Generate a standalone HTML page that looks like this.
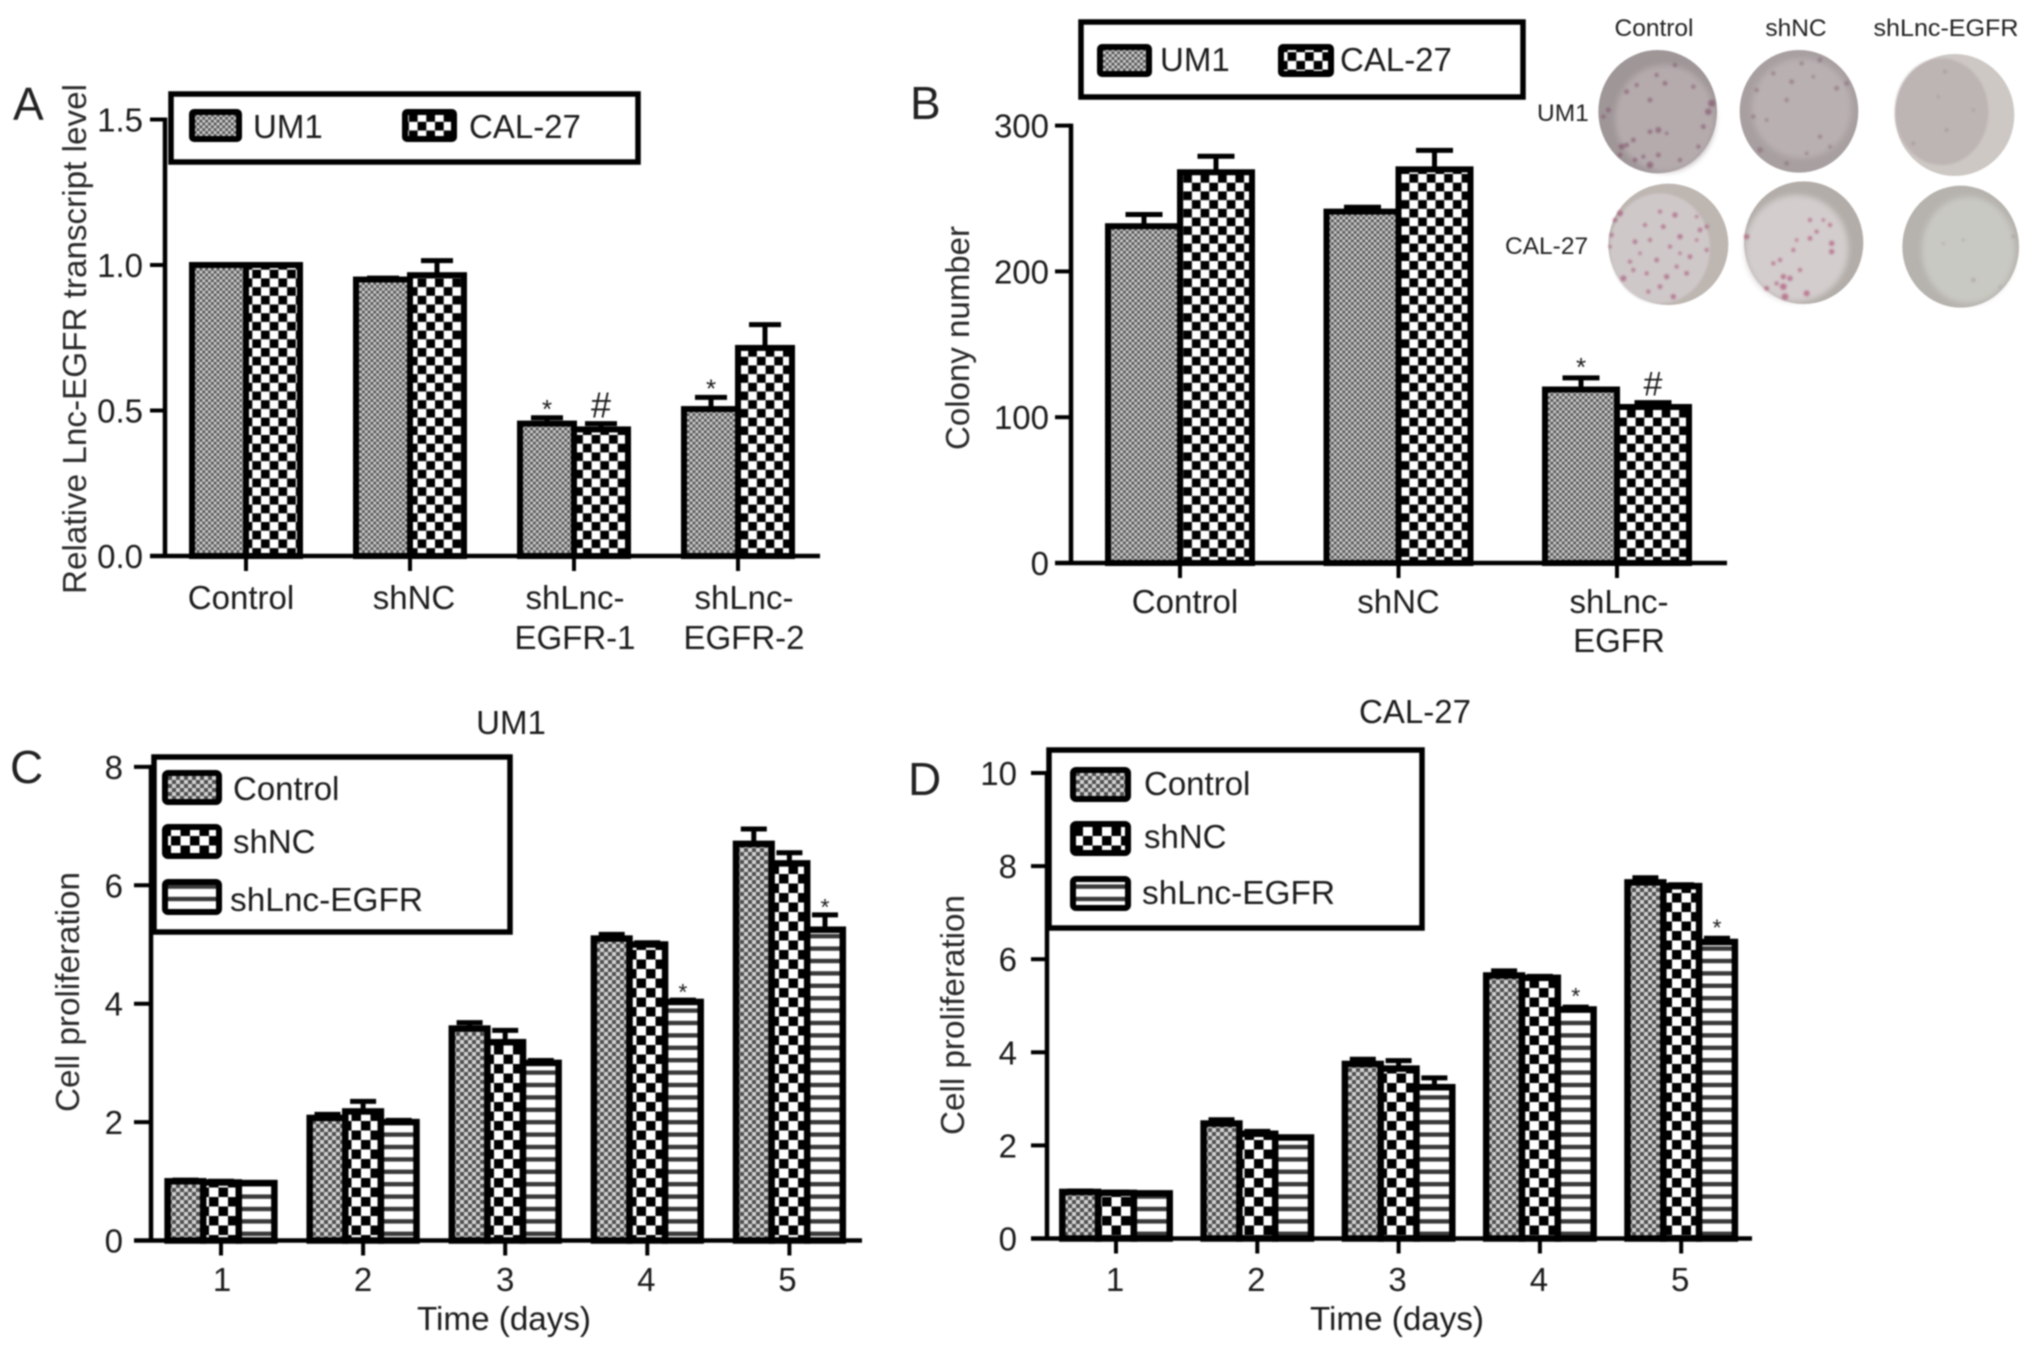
<!DOCTYPE html>
<html lang="en">
<head>
<meta charset="utf-8">
<title>Lnc-EGFR knockdown figure</title>
<style>
html,body{margin:0;padding:0;background:#fff;}
#figure{display:block;width:2032px;height:1349px;filter:blur(0.8px);}
text{font-family:"Liberation Sans",sans-serif;font-size:33px;fill:#1c1c1c;}
.letter{font-size:46px;fill:#222;}
.small{font-size:24.5px;fill:#222;}
.title{fill:#2a2a2a;}
.box{fill:#fff;stroke:#000;stroke-width:5.5;}
.swatch{stroke:#000;stroke-width:6;}
</style>
</head>
<body>
<svg id="figure" xmlns="http://www.w3.org/2000/svg" width="2032" height="1349" viewBox="0 0 2032 1349">
<defs>
  <pattern id="um-fine" patternUnits="userSpaceOnUse" width="5.7" height="5.7">
    <rect width="5.7" height="5.7" fill="#cccccc"/>
    <rect width="2.85" height="2.85" fill="#585858"/>
    <rect x="2.85" y="2.85" width="2.85" height="2.85" fill="#585858"/>
  </pattern>
  <pattern id="um-coarse" patternUnits="userSpaceOnUse" width="8" height="8">
    <rect width="8" height="8" fill="#d2d2d2"/>
    <rect width="4" height="4" fill="#4f4f4f"/>
    <rect x="4" y="4" width="4" height="4" fill="#4f4f4f"/>
  </pattern>
  <pattern id="cal-fine" patternUnits="userSpaceOnUse" width="17.4" height="17.4">
    <rect width="17.4" height="17.4" fill="#fff"/>
    <rect width="8.7" height="8.7" fill="#000"/>
    <rect x="8.7" y="8.7" width="8.7" height="8.7" fill="#000"/>
  </pattern>
  <pattern id="cal-coarse" patternUnits="userSpaceOnUse" width="19" height="19">
    <rect width="19" height="19" fill="#fff"/>
    <rect width="9.5" height="9.5" fill="#000"/>
    <rect x="9.5" y="9.5" width="9.5" height="9.5" fill="#000"/>
  </pattern>
  <pattern id="stripes" patternUnits="userSpaceOnUse" width="12.4" height="12.4">
    <rect width="12.4" height="12.4" fill="#fff"/>
    <rect y="4" width="12.4" height="4.4" fill="#3a3a3a"/>
  </pattern>
  <filter id="soft" x="-10%" y="-10%" width="120%" height="120%"><feGaussianBlur stdDeviation="3.5"/></filter>
  <filter id="soft2" x="-10%" y="-10%" width="120%" height="120%"><feGaussianBlur stdDeviation="9"/></filter>
</defs>

<rect width="2032" height="1349" fill="#fff"/>

<!-- PANEL A -->
<g>
  <text class="letter" x="13" y="120">A</text>
  <g id="plot-a"></g>
  <text class="title" transform="translate(86 594) rotate(-90)" textLength="510" lengthAdjust="spacingAndGlyphs">Relative Lnc-EGFR transcript level</text>
  <g>
    <rect class="box" x="171" y="94" width="467" height="68"/>
    <rect class="swatch" x="192" y="112" width="47" height="27" rx="2" fill="url(#um-fine)"/>
    <text x="253" y="138">UM1</text>
    <rect class="swatch" x="405" y="112" width="49" height="27" rx="2" fill="url(#cal-fine)"/>
    <text x="469" y="138">CAL-27</text>
  </g>
</g>

<!-- PANEL B -->
<g>
  <text class="letter" x="910" y="119">B</text>
  <g id="plot-b"></g>
  <text class="title" transform="translate(969 450) rotate(-90)" textLength="224" lengthAdjust="spacingAndGlyphs">Colony number</text>
  <g>
    <rect class="box" x="1081" y="22" width="442" height="75"/>
    <rect class="swatch" x="1100" y="47" width="49" height="27" rx="2" fill="url(#um-fine)"/>
    <text x="1160" y="71">UM1</text>
    <rect class="swatch" x="1281" y="47" width="50" height="27" rx="2" fill="url(#cal-fine)"/>
    <text x="1340" y="71">CAL-27</text>
  </g>

  <g>
    <text class="small" x="1654" y="36" text-anchor="middle">Control</text>
    <text class="small" x="1796" y="36" text-anchor="middle">shNC</text>
    <text class="small" x="1946" y="36" text-anchor="middle" textLength="145" lengthAdjust="spacingAndGlyphs">shLnc-EGFR</text>
    <text class="small" x="1537" y="121">UM1</text>
    <text class="small" x="1505" y="254">CAL-27</text>

    <g transform="translate(1580 40) scale(0.33333)">
      <g>
        <ellipse cx="233" cy="215" rx="178" ry="185" fill="#9f9697"/>
        <ellipse cx="255" cy="235" rx="150" ry="160" fill="#b5abad" filter="url(#soft2)"/>
        <g fill="#7f5069" filter="url(#soft)" opacity="0.62">
          <circle cx="140" cy="155" r="7"/><circle cx="255" cy="130" r="7"/><circle cx="230" cy="105" r="6"/><circle cx="285" cy="75" r="6"/><circle cx="210" cy="180" r="7"/><circle cx="395" cy="190" r="11"/><circle cx="385" cy="215" r="10"/><circle cx="370" cy="260" r="7"/><circle cx="235" cy="270" r="9"/><circle cx="210" cy="275" r="7"/><circle cx="125" cy="320" r="9"/><circle cx="160" cy="300" r="7"/><circle cx="140" cy="315" r="7"/><circle cx="210" cy="375" r="10"/><circle cx="235" cy="345" r="7"/><circle cx="85" cy="210" r="7"/><circle cx="70" cy="230" r="6"/><circle cx="170" cy="135" r="6"/><circle cx="355" cy="320" r="6"/><circle cx="190" cy="350" r="6"/><circle cx="120" cy="345" r="7"/><circle cx="340" cy="140" r="6"/><circle cx="260" cy="280" r="5"/><circle cx="300" cy="360" r="6"/><circle cx="165" cy="360" r="7"/>
        </g>
      </g>
      <g>
        <ellipse cx="657" cy="214" rx="178" ry="184" fill="#a89fa0"/>
        <ellipse cx="665" cy="205" rx="150" ry="150" fill="#b9b0b1" filter="url(#soft2)"/>
        <g fill="#7f5f72" filter="url(#soft)" opacity="0.55">
          <circle cx="635" cy="125" r="7"/><circle cx="620" cy="180" r="6"/><circle cx="770" cy="145" r="7"/><circle cx="530" cy="150" r="6"/><circle cx="520" cy="230" r="6"/><circle cx="720" cy="290" r="6"/><circle cx="540" cy="330" r="8"/><circle cx="680" cy="340" r="5"/><circle cx="665" cy="70" r="6"/><circle cx="720" cy="60" r="7"/><circle cx="800" cy="130" r="7"/><circle cx="580" cy="100" r="6"/><circle cx="560" cy="240" r="5"/><circle cx="700" cy="110" r="5"/><circle cx="750" cy="320" r="5"/><circle cx="620" cy="370" r="6"/>
        </g>
      </g>
      <g>
        <ellipse cx="1124" cy="225" rx="179" ry="183" fill="#cdc8c4"/>
        <ellipse cx="1085" cy="215" rx="140" ry="160" fill="#bdb4b4" filter="url(#soft)"/>
        <g fill="#8f7f86" filter="url(#soft)" opacity="0.5">
          <circle cx="1100" cy="270" r="5"/><circle cx="1095" cy="95" r="5"/><circle cx="1180" cy="210" r="4"/><circle cx="1000" cy="310" r="5"/><circle cx="1075" cy="170" r="4"/>
        </g>
      </g>
      <g>
        <ellipse cx="265" cy="613" rx="180" ry="182" fill="#bdb6b1"/>
        <ellipse cx="240" cy="625" rx="150" ry="165" fill="#cfc8c9" filter="url(#soft)"/>
        <g fill="#a0496f" filter="url(#soft)" opacity="0.6">
          <circle cx="120" cy="520" r="9"/><circle cx="105" cy="540" r="7"/><circle cx="95" cy="585" r="6"/><circle cx="240" cy="515" r="6"/><circle cx="285" cy="525" r="8"/><circle cx="195" cy="555" r="6"/><circle cx="250" cy="560" r="7"/><circle cx="360" cy="570" r="7"/><circle cx="380" cy="560" r="6"/><circle cx="350" cy="530" r="5"/><circle cx="300" cy="590" r="8"/><circle cx="165" cy="605" r="7"/><circle cx="210" cy="600" r="6"/><circle cx="270" cy="620" r="6"/><circle cx="330" cy="650" r="7"/><circle cx="380" cy="630" r="6"/><circle cx="150" cy="665" r="6"/><circle cx="230" cy="660" r="7"/><circle cx="290" cy="680" r="6"/><circle cx="320" cy="700" r="7"/><circle cx="200" cy="700" r="6"/><circle cx="260" cy="710" r="8"/><circle cx="130" cy="715" r="9"/><circle cx="240" cy="740" r="7"/><circle cx="280" cy="770" r="8"/><circle cx="205" cy="755" r="6"/><circle cx="160" cy="690" r="6"/><circle cx="90" cy="620" r="5"/><circle cx="350" cy="600" r="5"/><circle cx="180" cy="640" r="5"/><circle cx="300" cy="640" r="5"/>
        </g>
      </g>
      <g>
        <ellipse cx="671" cy="608" rx="179" ry="184" fill="#b3ada9"/>
        <ellipse cx="650" cy="625" rx="155" ry="160" fill="#d3cdcd" filter="url(#soft2)"/>
        <g fill="#ab4670" filter="url(#soft)" opacity="0.62">
          <circle cx="690" cy="540" r="6"/><circle cx="750" cy="555" r="6"/><circle cx="710" cy="575" r="6"/><circle cx="690" cy="595" r="7"/><circle cx="755" cy="610" r="8"/><circle cx="755" cy="635" r="8"/><circle cx="640" cy="630" r="6"/><circle cx="600" cy="660" r="6"/><circle cx="580" cy="670" r="6"/><circle cx="660" cy="690" r="6"/><circle cx="610" cy="710" r="8"/><circle cx="630" cy="715" r="8"/><circle cx="610" cy="740" r="10"/><circle cx="615" cy="770" r="10"/><circle cx="680" cy="760" r="9"/><circle cx="560" cy="745" r="7"/><circle cx="500" cy="590" r="8"/><circle cx="650" cy="600" r="5"/><circle cx="730" cy="540" r="5"/><circle cx="590" cy="730" r="6"/>
        </g>
      </g>
      <g>
        <ellipse cx="1142" cy="620" rx="175" ry="183" fill="#b6b2ad"/>
        <ellipse cx="1165" cy="630" rx="140" ry="160" fill="#c9c9c3" filter="url(#soft2)"/>
        <g fill="#99878d" filter="url(#soft)" opacity="0.5">
          <circle cx="1150" cy="600" r="4"/><circle cx="1180" cy="720" r="6"/><circle cx="1260" cy="740" r="4"/><circle cx="1300" cy="590" r="5"/><circle cx="1090" cy="610" r="4"/>
        </g>
      </g>
    </g>
  </g>
</g>

<!-- PANEL C -->
<g>
  <text class="letter" x="10" y="783">C</text>
  <text x="511" y="734" text-anchor="middle">UM1</text>
  <g id="plot-c"></g>
  <text class="title" transform="translate(79 1112) rotate(-90)" textLength="240" lengthAdjust="spacingAndGlyphs">Cell proliferation</text>
  <text x="417" y="1330" textLength="174" lengthAdjust="spacingAndGlyphs">Time (days)</text>
  <g>
    <rect class="box" x="154" y="757" width="356" height="175"/>
    <rect class="swatch" x="165" y="773" width="54" height="29" rx="3" fill="url(#um-coarse)"/>
    <text x="233" y="800">Control</text>
    <rect class="swatch" x="165" y="827" width="54" height="29" rx="3" fill="url(#cal-coarse)"/>
    <text x="233" y="853">shNC</text>
    <rect class="swatch" x="165" y="882" width="54" height="30" rx="3" fill="url(#stripes)"/>
    <text x="230" y="911" textLength="193" lengthAdjust="spacingAndGlyphs">shLnc-EGFR</text>
  </g>
</g>

<!-- PANEL D -->
<g>
  <text class="letter" x="908" y="795">D</text>
  <text x="1415" y="723" text-anchor="middle">CAL-27</text>
  <g id="plot-d"></g>
  <text class="title" transform="translate(964 1135) rotate(-90)" textLength="240" lengthAdjust="spacingAndGlyphs">Cell proliferation</text>
  <text x="1310" y="1330" textLength="174" lengthAdjust="spacingAndGlyphs">Time (days)</text>
  <g>
    <rect class="box" x="1049" y="750" width="373" height="178"/>
    <rect class="swatch" x="1073" y="770" width="55" height="29" rx="3" fill="url(#um-coarse)"/>
    <text x="1144" y="795">Control</text>
    <rect class="swatch" x="1073" y="824" width="55" height="29" rx="3" fill="url(#cal-coarse)"/>
    <text x="1144" y="848">shNC</text>
    <rect class="swatch" x="1073" y="879" width="55" height="29" rx="3" fill="url(#stripes)"/>
    <text x="1142" y="904" textLength="193" lengthAdjust="spacingAndGlyphs">shLnc-EGFR</text>
  </g>
</g>

<script>
// Panel A data
const aCategories = [['Control'], ['shNC'], ['shLnc-', 'EGFR-1'], ['shLnc-', 'EGFR-2']];
const aUm1 = [1.0, 0.95, 0.455, 0.505];
const aUm1Err = [0, 0.005, 0.02, 0.04];
const aUm1Marks = ['', '', '*', '*'];
const aCal27 = [1.0, 0.965, 0.435, 0.715];
const aCal27Err = [0, 0.05, 0.02, 0.08];
const aCal27Marks = ['', '', '#', ''];
const aTicks = ['0.0', '0.5', '1.0', '1.5'];

// Panel B data
const bCategories = [['Control'], ['shNC'], ['shLnc-', 'EGFR']];
const bUm1 = [231, 241, 119];
const bUm1Err = [8, 3, 8];
const bUm1Marks = ['', '', '*'];
const bCal27 = [268, 270, 107];
const bCal27Err = [11, 13, 3];
const bCal27Marks = ['', '', '#'];
const bTicks = ['0', '100', '200', '300'];

// Panel C data
const cCategories = [['1'], ['2'], ['3'], ['4'], ['5']];
const cControl = [1.0, 2.07, 3.58, 5.1, 6.7];
const cControlErr = [0.02, 0.06, 0.1, 0.07, 0.25];
const cShNC = [0.98, 2.18, 3.35, 5.0, 6.37];
const cShNCErr = [0.02, 0.17, 0.2, 0.03, 0.18];
const cShLnc = [0.97, 2.0, 3.0, 4.03, 5.25];
const cShLncErr = [0.01, 0.03, 0.04, 0.03, 0.25];
const cShLncMarks = ['', '', '', '*', '*'];
const cTicks = ['0', '2', '4', '6', '8'];

// Panel D data
const dCategories = [['1'], ['2'], ['3'], ['4'], ['5']];
const dControl = [1.0, 2.47, 3.75, 5.65, 7.65];
const dControlErr = [0.02, 0.08, 0.1, 0.1, 0.1];
const dShNC = [0.98, 2.25, 3.65, 5.6, 7.57];
const dShNCErr = [0.02, 0.05, 0.17, 0.03, 0.03];
const dShLnc = [0.97, 2.17, 3.25, 4.92, 6.37];
const dShLncErr = [0.01, 0.01, 0.2, 0.05, 0.08];
const dShLncMarks = ['', '', '', '*', '*'];
const dTicks = ['0', '2', '4', '6', '8', '10'];

const SVGNS = 'http://www.w3.org/2000/svg';

function mk(tag, attrs, parent) {
  const el = document.createElementNS(SVGNS, tag);
  for (const k in attrs) el.setAttribute(k, attrs[k]);
  parent.appendChild(el);
  return el;
}

function drawChart(cfg) {
  const root = document.getElementById(cfg.id);
  const yScale = v => cfg.y0 - v * cfg.pxPerUnit;
  const xBand = i => cfg.x0 + i * cfg.step;
  const n = cfg.series.length;
  const xBar = (i, s) => xBand(i) + (s - n / 2) * cfg.barW;

  // error bars sit behind the bars
  cfg.series.forEach((s, si) => {
    s.values.forEach((v, i) => {
      const cx = xBar(i, si) + cfg.barW / 2;
      const top = yScale(v + s.errors[i]);
      const stem = mk('line', {x1: cx, x2: cx, y1: yScale(v), y2: top, stroke: '#000', 'stroke-width': 5}, root);
      
      
      const cap = mk('line', {x1: cx - cfg.capW / 2, x2: cx + cfg.capW / 2, y1: top, y2: top, stroke: '#000', 'stroke-width': 5}, root);
      
      
    });
  });

  // bars
  cfg.series.forEach((s, si) => {
    s.values.forEach((v, i) => {
      const bar = mk('rect', {
        x: xBar(i, si), y: yScale(v), width: cfg.barW, height: Math.max(0, cfg.y0 - yScale(v)),
        fill: 'url(#' + s.fill + ')', stroke: '#000', 'stroke-width': cfg.barStroke
      }, root);
      
      
    });
  });

  // significance marks
  cfg.series.forEach((s, si) => {
    (s.marks || []).forEach((m, i) => {
      if (!m) return;
      const cx = xBar(i, si) + cfg.barW / 2;
      const top = yScale(s.values[i] + s.errors[i]);
      const isHash = m === '#';
      const t = mk('text', {
        x: cx, y: top - (isHash ? cfg.hashGap : cfg.starGap), 'text-anchor': 'middle',
        style: 'font-size:' + (isHash ? cfg.hashSize : cfg.starSize) + 'px'
      }, root);
      t.textContent = m;
      
      
    });
  });

  // axes
  const yAxis = mk('line', {x1: cfg.axisX, x2: cfg.axisX, y1: yScale(parseFloat(cfg.ticks[cfg.ticks.length - 1])) - 2, y2: cfg.y0 + 2, stroke: '#000', 'stroke-width': 4.5}, root);
  
  
  const xAxis = mk('line', {x1: cfg.xAxisStart, x2: cfg.xAxisEnd, y1: cfg.y0, y2: cfg.y0, stroke: '#000', 'stroke-width': 4.5}, root);
  
  

  cfg.ticks.forEach(label => {
    const y = yScale(parseFloat(label));
    const tick = mk('line', {x1: cfg.xAxisStart, x2: cfg.axisX, y1: y, y2: y, stroke: '#000', 'stroke-width': 4}, root);
    
    
    const t = mk('text', {x: cfg.tickLabelX, y: y + 12, 'text-anchor': 'end'}, root);
    t.textContent = label;
    
    
  });

  cfg.categories.forEach((lines, i) => {
    const x = xBand(i);
    const tick = mk('line', {x1: x, x2: x, y1: cfg.y0, y2: cfg.y0 + 15, stroke: '#000', 'stroke-width': 4}, root);
    
    
    lines.forEach((line, li) => {
      const t = mk('text', {x: x + cfg.labelDx[i], y: cfg.labelY + li * cfg.labelLead, 'text-anchor': 'middle'}, root);
      t.textContent = line;
      
      
    });
  });
}

drawChart({
  id: 'plot-a', x0: 246, step: 164, y0: 556, pxPerUnit: 291, barW: 54, capW: 32, barStroke: 6,
  axisX: 165, xAxisStart: 150, xAxisEnd: 820, tickLabelX: 143, labelY: 609, labelLead: 40,
  labelDx: [-5, 4, 1, 6], starGap: 0, hashGap: 6, starSize: 26, hashSize: 36,
  ticks: aTicks, categories: aCategories,
  series: [
    {values: aUm1, errors: aUm1Err, marks: aUm1Marks, fill: 'um-fine'},
    {values: aCal27, errors: aCal27Err, marks: aCal27Marks, fill: 'cal-fine'}
  ]
});

drawChart({
  id: 'plot-b', x0: 1180, step: 218.5, y0: 563, pxPerUnit: 1.458, barW: 72, capW: 37, barStroke: 6,
  axisX: 1071, xAxisStart: 1055, xAxisEnd: 1727, tickLabelX: 1049, labelY: 613, labelLead: 39,
  labelDx: [5, 0, 2], starGap: 2, hashGap: 7, starSize: 26, hashSize: 34,
  ticks: bTicks, categories: bCategories,
  series: [
    {values: bUm1, errors: bUm1Err, marks: bUm1Marks, fill: 'um-fine'},
    {values: bCal27, errors: bCal27Err, marks: bCal27Marks, fill: 'cal-fine'}
  ]
});

drawChart({
  id: 'plot-c', x0: 221, step: 142.1, y0: 1240.5, pxPerUnit: 59.2, barW: 35.6, capW: 26, barStroke: 6.5,
  axisX: 151, xAxisStart: 134, xAxisEnd: 862, tickLabelX: 123, labelY: 1291, labelLead: 0,
  labelDx: [1, 0, 0, -1, -2], starGap: 0, hashGap: 5, starSize: 23, hashSize: 29,
  ticks: cTicks, categories: cCategories,
  series: [
    {values: cControl, errors: cControlErr, fill: 'um-coarse'},
    {values: cShNC, errors: cShNCErr, fill: 'cal-coarse'},
    {values: cShLnc, errors: cShLncErr, marks: cShLncMarks, fill: 'stripes'}
  ]
});

drawChart({
  id: 'plot-d', x0: 1116, step: 141.3, y0: 1238.5, pxPerUnit: 46.55, barW: 35.8, capW: 26, barStroke: 6.5,
  axisX: 1047, xAxisStart: 1031, xAxisEnd: 1752, tickLabelX: 1017, labelY: 1291, labelLead: 0,
  labelDx: [-1, -1, -1, -1, -1], starGap: 3, hashGap: 5, starSize: 23, hashSize: 29,
  ticks: dTicks, categories: dCategories,
  series: [
    {values: dControl, errors: dControlErr, fill: 'um-coarse'},
    {values: dShNC, errors: dShNCErr, fill: 'cal-coarse'},
    {values: dShLnc, errors: dShLncErr, marks: dShLncMarks, fill: 'stripes'}
  ]
});
</script>
</svg>
</body>
</html>
